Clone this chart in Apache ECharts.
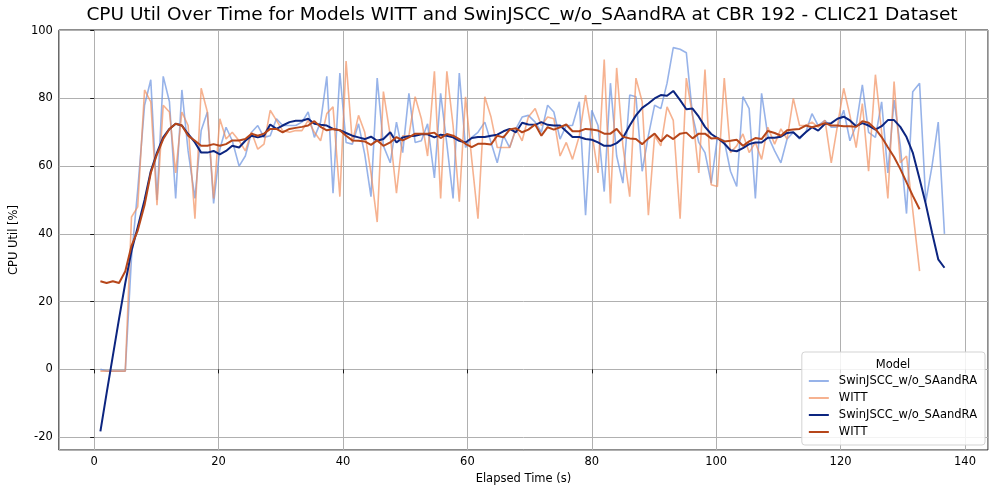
<!DOCTYPE html>
<html><head><meta charset="utf-8">
<script src="https://cdn.jsdelivr.net/npm/echarts@6/dist/echarts.min.js"></script>
<style>html,body{margin:0;padding:0;background:#fff}#c{width:996px;height:494px}</style>
</head><body><div id="c"></div>
<script>
// Elapsed time (s) of each sample
const elapsedTime = [1.0,2.0,3.0,4.0,5.0,6.0,7.0,8.1,9.1,10.1,11.1,12.1,13.1,14.1,15.1,16.2,17.2,18.2,19.2,20.2,
21.2,22.2,23.3,24.3,25.3,26.3,27.3,28.3,29.3,30.3,31.4,32.4,33.4,34.4,35.4,36.4,37.4,38.4,39.5,40.5,
41.5,42.5,43.5,44.5,45.5,46.5,47.6,48.6,49.6,50.6,51.6,52.6,53.6,54.7,55.7,56.7,57.7,58.7,59.7,60.7,
61.7,62.8,63.8,64.8,65.8,66.8,67.8,68.8,69.8,70.9,71.9,72.9,73.9,74.9,75.9,76.9,78.0,79.0,80.0,81.0,
82.0,83.0,84.0,85.0,86.1,87.1,88.1,89.1,90.1,91.1,92.1,93.1,94.2,95.2,96.2,97.2,98.2,99.2,100.2,101.3,
102.3,103.3,104.3,105.3,106.3,107.3,108.3,109.4,110.4,111.4,112.4,113.4,114.4,115.4,116.4,117.5,118.5,119.5,120.5,121.5,
122.5,123.5,124.5,125.6,126.6,127.6,128.6,129.6,130.6,131.6,132.7,133.7,134.7,135.7,136.7];

const seriesNames = ['SwinJSCC_w/o_SAandRA', 'WITT'];

// Raw CPU utilisation (%)
const swinRaw = [0,-0.5,-0.5,-0.5,-0.5,33,53,78,85.5,50,86.5,79,50.5,82.5,64.5,50.5,70.5,76,49,65,
71.5,67.5,60,63,70,72,68.5,69,74,72,72,72,73,76,68.5,73,86.5,52,87.5,67,
66.5,72.5,63.5,51,86,66,61,73,64,81.5,67,67.5,72.5,56.5,81.5,66.5,50.5,87.5,65.5,68.5,
70,73,67,61,69,65.5,71,74.5,75,73,70,78,76,68,72,72,79,45.5,76.5,72,
52.5,84.5,63,55,81,80.5,58.5,69,78,77,84.5,95,94.5,93.5,75,67,64,55,68.5,67.5,
58.5,54,80.5,77,50.5,81.5,69,64.5,61,68,70,68,70,75.5,72,73.5,71.5,71.5,76.5,67.5,
72,84,70,68.5,79,58,79.5,66,46,82,84.5,49.5,60,73,40];

const wittRaw = [-0.5,-0.5,-0.5,-0.5,-0.5,45,48,82.5,79,48.5,78,76,58,76,72,44.5,83,76,50.5,74,
68,70,67.5,64.5,70,65,66.5,76.5,73.5,70.5,70,70.5,70.5,73.5,70,67.5,75.5,77.5,51,91,
67,75,70,58,43.5,82,69,52,69,69,80.5,74,63,88,50.5,88,72,49.5,80.5,62,
44.5,80.5,74.5,65.5,65.5,65.5,71,67.5,74.5,77,72,74.5,74,63,67,62,69,81,70,58,
91.5,49,89,66,51,86,79,45.5,69,66,77.5,73.5,44.5,86,75,58,88.5,54.5,54,86,
64,66,69.5,64,67,62,71.5,66.5,71,68,80,72,72,73,71.5,73.5,61,72,83,75,
65.5,78.5,58.5,87,70,50.5,85,61,63,47,29];

// Smoothed CPU utilisation (%)
const swinSmooth = [-18.3,-7,4,15,25.5,35,42,50,58.5,64,68.5,71,72.5,72,69.5,67,64,64,64.5,63.5,
64.5,66,65.5,67.5,69,68.5,69,72.3,71,72,73,73.4,73.4,74,72.5,72.2,72,71,70.6,69.8,
69,68.5,68,68.7,67.5,68,70,67,68.5,68.8,69,69.4,69.4,68.5,69.3,69,68.5,67.5,67,68.3,
68.6,68.6,69,69.3,70.3,71,70,72.8,72.3,72.2,73,72.2,72,72,70.3,68.6,68.6,68,67.8,67,
66,66,66.8,68.3,72,75,77.2,78.5,80,81,80.8,82.2,79.5,76.8,77,74.6,71.6,69.5,68.3,66.7,
64.7,64.4,65.3,66.5,67,67,68.4,68.4,68.7,69.8,70,68.3,70,71.5,70.5,72.5,72.7,74,74.6,73.5,
71.8,72.7,72,70.8,71.8,73.6,73.6,71.6,68.6,64,56.2,48.8,40.4,32.5,30];

const wittSmooth = [26,25.5,26,25.5,29,36.5,41,48.5,58,63.5,68,71,72.5,72,69,67.5,66,66,66.5,66,
66.5,67.6,67.6,68,69.6,69,69.6,71,71,70,71,71.3,71.6,72,73.3,71.6,70.6,71,70.6,69,
67.6,67.5,67.3,66.3,67.6,66,67,68.6,67.6,68.5,69.6,69.6,69.6,69.9,68.3,69.5,69,68,66.6,65.6,
66.6,66.6,66.4,69,68.5,70.8,71.2,70,70.8,72.3,69,71.5,70.8,71.5,72.3,70.3,70.3,71,70.8,70.5,
69.6,69.6,71,68.7,68.2,68,66.5,68.2,69.6,67.3,69.2,68,69.6,69.9,68.2,69.6,69.6,68.2,68.3,67.3,
67.5,67.8,66,67.3,68.3,68,70.4,69.8,69,70.6,70.8,71,72,71.5,72,72.7,72,72,71.8,71.8,
71.6,73.3,72.8,71,68.6,65.6,62.7,59.2,55.2,51.3,47.3];

function pairs(vals) { return vals.map((v, i) => [elapsedTime[i], v]); }

const FONT = 'DejaVu Sans';
const chart = echarts.init(document.getElementById('c'), null, {renderer: 'canvas'});
const ZW = '\u200b';
chart.setOption({
  animation: false,
  backgroundColor: '#fff',
  grid: {left: 57, right: 8, top: 30, bottom: 44, show: true, borderColor: '#1a1a1a', borderWidth: 1, backgroundColor: 'transparent'},
  xAxis: {
    type: 'value', min: -5.68, max: 143.7, splitNumber: 7,
    name: 'Elapsed Time (s)', nameLocation: 'middle', nameGap: 23,
    nameTextStyle: {fontFamily: FONT, fontSize: 11.5, color: '#000'},
    axisLine: {show: false},
    axisTick: {show: true, length: 4, lineStyle: {color: '#1a1a1a'}},
    axisLabel: {fontFamily: FONT, fontSize: 11.5, color: '#000', margin: 6, showMinLabel: false, showMaxLabel: false},
    splitLine: {show: true, lineStyle: {color: '#b0b0b0', width: 1}}
  },
  yAxis: {
    type: 'value', min: -23.8, max: 100.2, splitNumber: 6,
    name: 'CPU Util [%]', nameLocation: 'middle', nameGap: 37, nameRotate: 90,
    nameTextStyle: {fontFamily: FONT, fontSize: 11.5, color: '#000'},
    axisLine: {show: false},
    axisTick: {show: true, length: 4, lineStyle: {color: '#1a1a1a'}},
    axisLabel: {fontFamily: FONT, fontSize: 11.5, color: '#000', margin: 6, showMinLabel: false, showMaxLabel: false},
    splitLine: {show: true, lineStyle: {color: '#b0b0b0', width: 1}}
  },
  legend: {
    orient: 'vertical', right: 11, bottom: 49,
    data: [seriesNames[0], seriesNames[1], seriesNames[0] + ZW, seriesNames[1] + ZW],
    formatter: n => n.replace(ZW, ''),
    icon: 'rect', itemWidth: 20, itemHeight: 2, itemGap: 3,
    textStyle: {fontFamily: FONT, fontSize: 11.5, color: '#000', lineHeight: 14, padding: [0, 0, 0, 5]},
    padding: [22, 8, 6, 7],
    backgroundColor: 'rgba(255,255,255,0.85)', borderColor: '#d3d3d3', borderWidth: 1, borderRadius: 3,
    selectedMode: false
  },
  graphic: [
    {type: 'text', x: 522, y: 6, z: 100, style: {text: 'CPU Util Over Time for Models WITT and SwinJSCC_w/o_SAandRA at CBR 192 - CLIC21 Dataset', fontFamily: FONT, fontSize: 18.5, fill: '#000', textAlign: 'center', textVerticalAlign: 'top'}},
    {type: 'text', x: 893, y: 359, z: 100, style: {text: 'Model', fontFamily: FONT, fontSize: 11.5, fill: '#000', textAlign: 'center', textVerticalAlign: 'top'}}
  ],
  series: [
    {name: seriesNames[0], type: 'line', data: pairs(swinRaw), showSymbol: false, color: 'rgba(111,149,224,0.72)', lineStyle: {width: 1.6}, z: 2},
    {name: seriesNames[1], type: 'line', data: pairs(wittRaw), showSymbol: false, color: 'rgba(242,142,92,0.68)', lineStyle: {width: 1.6}, z: 3},
    {name: seriesNames[0] + ZW, type: 'line', data: pairs(swinSmooth), showSymbol: false, color: '#0c2580', lineStyle: {width: 2}, z: 4},
    {name: seriesNames[1] + ZW, type: 'line', data: pairs(wittSmooth), showSymbol: false, color: '#b6461a', lineStyle: {width: 2}, z: 5}
  ]
});
</script></body></html>
